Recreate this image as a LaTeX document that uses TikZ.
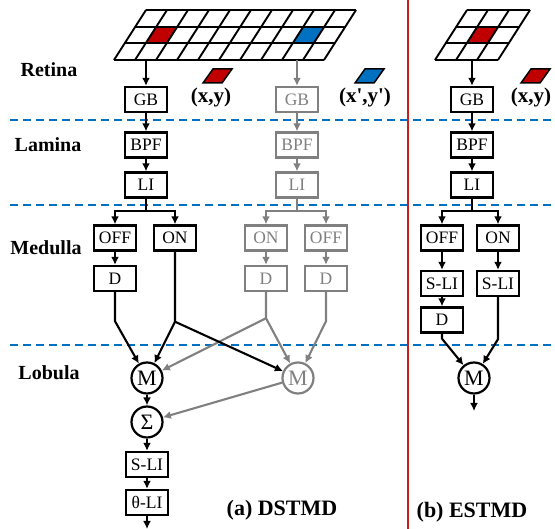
\documentclass[tikz,border=0pt]{standalone}
\usepackage{fontspec}
\setmainfont{Liberation Serif}[Ligatures=TeXOff]
\usetikzlibrary{arrows.meta}
\definecolor{grayc}{RGB}{128,128,128}
\definecolor{layerc}{RGB}{0,112,192}
\definecolor{cellr}{RGB}{192,0,0}
\definecolor{cellb}{RGB}{0,112,192}
\definecolor{sepc}{RGB}{200,30,30}
\begin{document}
\begin{tikzpicture}[x=1pt, y=-1pt,
    box/.style={draw, line width=2.4pt, minimum width=42pt, minimum height=25pt, inner sep=0pt, font=\fontsize{17.5}{19}\selectfont},
    gbox/.style={box, draw=grayc, text=grayc},
    mbox/.style={circle, draw, line width=2.2pt, minimum size=31pt, inner sep=0pt, font=\fontsize{22}{24}\selectfont},
    gmbox/.style={mbox, draw=grayc, text=grayc},
    conn/.style={line width=2.1pt, -{Latex[length=8pt, width=8pt]}},
    gconn/.style={conn, draw=grayc},
    layer/.style={layerc, line width=1.8pt, dash pattern=on 8pt off 5pt},
    lname/.style={font=\bfseries\fontsize{20}{22}\selectfont},
    xylabel/.style={font=\bfseries\fontsize{21}{23}\selectfont}]
    \useasboundingbox (0, 0) rectangle (555, 529);
    % layer borders and separator
    \draw[layer] (10, 120) -- (555, 120);
    \draw[layer] (10, 205) -- (555, 205);
    \draw[layer] (10, 345) -- (555, 345);
    \draw[sepc, line width=2pt] (408, 0) -- (408, 529);
    \node[lname] (retina) at (49, 70) {Retina};
    \node[lname] (lamina) at (48, 145) {Lamina};
    \node[lname] (medulla) at (46, 248) {Medulla};
    \node[lname] (lobula) at (49, 373) {Lobula};
    % retina grids
    \begin{scope}[shift={(114, 60)}, x={(21pt, 0pt)}, y={(10.67pt, 16.67pt)}]
        \fill[cellr] (1, 1) -- (2, 1) -- (2, 2) -- (1, 2) -- cycle;
        \fill[cellb] (8, 1) -- (9, 1) -- (9, 2) -- (8, 2) -- cycle;
        \foreach \i in {0,...,10} \draw[line width=1.9pt] (\i, 0) -- (\i, 3);
        \foreach \j in {0,...,3} \draw[line width=1.9pt] (0, \j) -- (10, \j);
    \end{scope}
    \begin{scope}[shift={(435, 60)}, x={(21pt, 0pt)}, y={(10.67pt, 16.67pt)}]
        \fill[cellr] (1, 1) -- (2, 1) -- (2, 2) -- (1, 2) -- cycle;
        \foreach \i in {0,...,3} \draw[line width=1.9pt] (\i, 0) -- (\i, 3);
        \foreach \j in {0,...,3} \draw[line width=1.9pt] (0, \j) -- (3, \j);
    \end{scope}
    \draw[fill=cellr, line width=1.5pt] (203, 83) -- (222, 83) -- (232, 69) -- (213, 69) -- cycle;
    \draw[fill=cellb, line width=1.5pt] (355, 83) -- (374, 83) -- (384, 69) -- (365, 69) -- cycle;
    \draw[fill=cellr, line width=1.5pt] (521, 83) -- (540, 83) -- (550, 69) -- (531, 69) -- cycle;
    \node[xylabel] (xy) at (211, 97) {(x,y)};
    \node[xylabel] (xyp) at (365, 97) {(x',y')};
    \node[xylabel] (xyc) at (531, 97) {(x,y)};
    % (a) DSTMD, first channel
    \coordinate (ra) at (146, 60);
    \node[box] (GBa) at (146, 99.5) {GB};
    \node[box] (BPFa) at (146, 145) {BPF};
    \node[box] (LIa) at (146, 185) {LI};
    \node[box] (OFFa) at (115, 238) {OFF};
    \node[box] (ONa) at (175, 238) {ON};
    \node[box] (Da) at (115, 278.5) {D};
    \node[mbox] (Ma) at (147, 378) {M};
    \node[mbox] (Sa) at (147, 422) {Σ};
    \node[box] (SLIa) at (147, 464.5) {S-LI};
    \node[box] (TLIa) at (147, 502.5) {θ-LI};
    \coordinate (outa) at (147, 529);
    % (a) DSTMD, second channel
    \coordinate (rb) at (297, 60);
    \node[gbox] (GBb) at (297, 99.5) {GB};
    \node[gbox] (BPFb) at (297, 145) {BPF};
    \node[gbox] (LIb) at (297, 185) {LI};
    \node[gbox] (ONb) at (266, 238) {ON};
    \node[gbox] (OFFb) at (326, 238) {OFF};
    \node[gbox] (Db) at (266, 278.5) {D};
    \node[gbox] (Dbb) at (326, 278.5) {D};
    \node[gmbox] (Mb) at (298, 378) {M};
    \draw[conn] (ra) -- (GBa);
    \draw[conn] (GBa) -- (BPFa);
    \draw[conn] (BPFa) -- (LIa);
    \draw[conn] (LIa.south) -- ++(0, 12.5) -| (OFFa);
    \draw[conn] (LIa.south) -- ++(0, 12.5) -| (ONa);
    \draw[conn] (OFFa) -- (Da);
    \draw[gconn] (rb) -- (GBb);
    \draw[gconn] (GBb) -- (BPFb);
    \draw[gconn] (BPFb) -- (LIb);
    \draw[gconn] (LIb.south) -- ++(0, 12.5) -| (ONb);
    \draw[gconn] (LIb.south) -- ++(0, 12.5) -| (OFFb);
    \draw[gconn] (ONb) -- (Db);
    \draw[gconn] (OFFb) -- (Dbb);
    \draw[gconn] (Db.south) -- ++(0, 26) coordinate (xb) -- (Ma);
    \draw[gconn] (xb) -- (Mb);
    \draw[gconn] (Dbb.south) -- ++(0, 29) -- (Mb);
    \draw[gconn] (Mb) -- (Sa);
    \draw[conn] (Da.south) -- ++(0, 29) -- (Ma);
    \draw[conn] (ONa.south) -- ++(0, 70) coordinate (xa) -- (Ma);
    \draw[conn] (xa) -- (Mb);
    \draw[conn] (Ma) -- (Sa);
    \draw[conn] (Sa) -- (SLIa);
    \draw[conn] (SLIa) -- (TLIa);
    \draw[conn] (TLIa) -- (outa);
    \node[font=\bfseries\fontsize{22}{24}\selectfont] (capa) at (282, 510) {(a) DSTMD};
    % (b) ESTMD
    \coordinate (rc) at (472, 60);
    \node[box] (GBc) at (472, 99.5) {GB};
    \node[box] (BPFc) at (472, 145) {BPF};
    \node[box] (LIc) at (472, 185) {LI};
    \node[box] (OFFc) at (442, 238) {OFF};
    \node[box] (ONc) at (498, 238) {ON};
    \node[box] (SLIc) at (442, 283.5) {S-LI};
    \node[box] (SLIcc) at (498, 283.5) {S-LI};
    \node[box] (Dc) at (442, 320) {D};
    \node[mbox] (Mc) at (474, 378) {M};
    \coordinate (outc) at (474, 411);
    \draw[conn] (rc) -- (GBc);
    \draw[conn] (GBc) -- (BPFc);
    \draw[conn] (BPFc) -- (LIc);
    \draw[conn] (LIc.south) -- ++(0, 12.5) -| (OFFc);
    \draw[conn] (LIc.south) -- ++(0, 12.5) -| (ONc);
    \draw[conn] (OFFc) -- (SLIc);
    \draw[conn] (ONc) -- (SLIcc);
    \draw[conn] (SLIc) -- (Dc);
    \draw[conn] (Dc.south) -- ++(0, 5) -- (Mc);
    \draw[conn] (SLIcc.south) -- ++(0, 42) -- (Mc);
    \draw[conn] (Mc) -- (outc);
    \node[font=\bfseries\fontsize{22}{24}\selectfont] (capb) at (472, 512) {(b) ESTMD};
\end{tikzpicture}
\end{document}
